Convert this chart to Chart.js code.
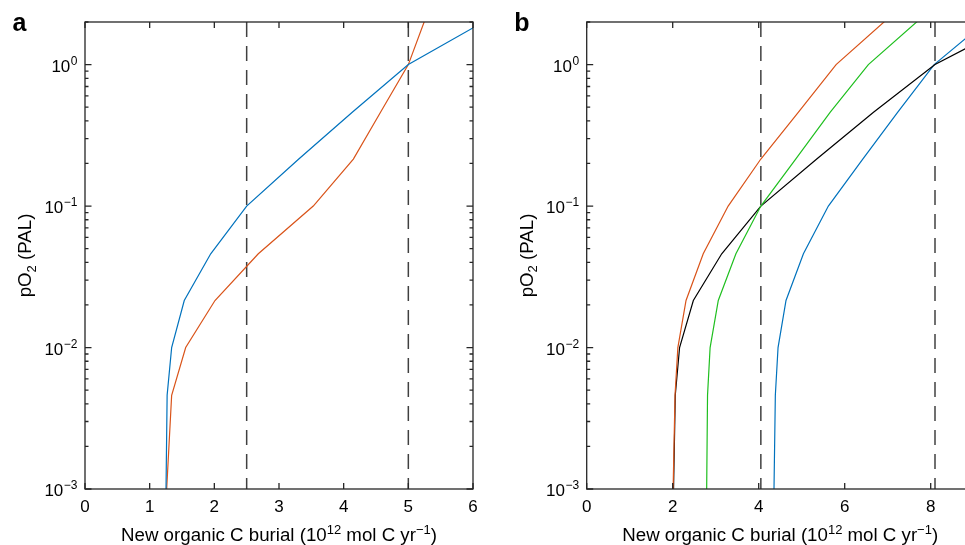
<!DOCTYPE html>
<html><head><meta charset="utf-8">
<script src="https://cdn.jsdelivr.net/npm/chart.js@4.4.1/dist/chart.umd.min.js"></script>
<style>
html,body{margin:0;padding:0;background:#fff;overflow:hidden;}
#wrap{position:relative;width:965px;height:545px;overflow:hidden;background:#fff;}
canvas{position:absolute;top:0;}
</style></head><body>
<div id="wrap">
<canvas id="ca" width="480" height="545" style="left:0"></canvas>
<canvas id="cb" width="500" height="545" style="left:480px"></canvas>
</div>
<script>
// ---------- data ----------
const xTicksA = [0, 1, 2, 3, 4, 5, 6];
const xTicksB = [0, 2, 4, 6, 8];
const yTicks = [0.001, 0.01, 0.1, 1];
const xRangeA = [0, 6];
const xRangeB = [0, 9];
const yRange = [0.001, 2];
const dashA = [2.5, 5];
const dashB = [4.05, 8.1];
const xTitle = ['New organic C burial (10', '12', ' mol C yr', '\u22121', ')'];
const yTitle = ['pO', '2', ' (PAL)'];
const panelLetters = ['a', 'b'];

// panel a
const aBlueX = [1.253, 1.27, 1.34, 1.535, 1.944, 2.5, 3.306, 4.133, 5.0, 6.28];
const aBlueY = [0.001, 0.0046, 0.01, 0.0215, 0.046, 0.1, 0.215, 0.46, 1.0, 2.15];
const aRedX  = [1.263, 1.34, 1.557, 2.01, 2.68, 3.53, 4.15, 4.57, 5.0, 5.27];
const aRedY  = [0.001, 0.0046, 0.01, 0.0215, 0.046, 0.1, 0.215, 0.46, 1.0, 2.15];
// panel b
const bRedX   = [2.01, 2.054, 2.12, 2.31, 2.71, 3.29, 4.05, 4.92, 5.8, 7.03];
const bRedY   = [0.001, 0.0046, 0.01, 0.0215, 0.046, 0.1, 0.215, 0.46, 1.0, 2.15];
const bGreenX = [2.79, 2.81, 2.87, 3.06, 3.47, 4.05, 4.86, 5.66, 6.55, 7.79];
const bGreenY = [0.001, 0.0046, 0.01, 0.0215, 0.046, 0.1, 0.215, 0.46, 1.0, 2.15];
const bBlackX = [2.02, 2.06, 2.16, 2.48, 3.14, 4.05, 5.35, 6.67, 8.1, 10.2];
const bBlackY = [0.001, 0.0046, 0.01, 0.0215, 0.046, 0.1, 0.215, 0.46, 1.0, 2.15];
const bBlueX  = [4.356, 4.387, 4.45, 4.635, 5.04, 5.62, 6.42, 7.23, 8.08, 9.4];
const bBlueY  = [0.001, 0.0046, 0.01, 0.0215, 0.046, 0.1, 0.215, 0.46, 1.0, 2.15];

// ---------- helpers ----------
const FONT = '"Liberation Sans", Arial, Helvetica, sans-serif';
const TITLE_PX = 18.7, TITLE_SUP = 13;
function pts(xs, ys){ return xs.map((x, i) => ({x: x, y: ys[i]})); }
function curve(xs, ys, color){
  return {data: pts(xs, ys), borderColor: color, borderWidth: 1.2, pointRadius: 0, fill: false, tension: 0, order: 1};
}
function dashed(x){
  return {data: [{x: x, y: yRange[1]}, {x: x, y: yRange[0]}], borderColor: '#404040', borderWidth: 1.5,
          borderDash: [15, 9], pointRadius: 0, fill: false, tension: 0, order: 2};
}
function rich(ctx, parts, x, y, align){
  let w = 0;
  parts.forEach(p => { ctx.font = (p.b ? 'bold ' : '') + p.s + 'px ' + FONT; p.w = ctx.measureText(p.t).width; w += p.w + (p.g || 0); });
  let cx = align === 'right' ? x - w : align === 'center' ? x - w / 2 : x;
  ctx.textAlign = 'left'; ctx.textBaseline = 'alphabetic';
  parts.forEach(p => { ctx.font = (p.b ? 'bold ' : '') + p.s + 'px ' + FONT; cx += (p.g || 0); ctx.fillText(p.t, cx, y + (p.dy || 0)); cx += p.w; });
}

const axisPlugin = {
  id: 'axisDeco',
  afterDatasetsDraw(chart, args, opts){
    const ctx = chart.ctx;
    const {left, right, top, bottom} = chart.chartArea;
    const xs = chart.scales.x, ys = chart.scales.y;
    ctx.save();
    ctx.strokeStyle = '#262626'; ctx.lineWidth = 1.3;
    ctx.strokeRect(left, top, right - left, bottom - top);
    ctx.beginPath();
    opts.xTicks.forEach(v => {
      const p = xs.getPixelForValue(v);
      ctx.moveTo(p, bottom); ctx.lineTo(p, bottom - 6);
      ctx.moveTo(p, top); ctx.lineTo(p, top + 6);
    });
    yTicks.forEach(d => {
      for (let m = 1; m <= 9; m++){
        const v = m * d;
        if (v > yRange[1] + 1e-9) break;
        const p = ys.getPixelForValue(v);
        const len = m === 1 ? 6.5 : 3.5;
        ctx.moveTo(left, p); ctx.lineTo(left + len, p);
        ctx.moveTo(right, p); ctx.lineTo(right - len, p);
      }
    });
    ctx.stroke();
    ctx.fillStyle = '#000';
    // x tick labels
    ctx.font = '17px ' + FONT; ctx.textAlign = 'center'; ctx.textBaseline = 'alphabetic';
    opts.xTicks.forEach(v => { ctx.fillText(String(v), xs.getPixelForValue(v), bottom + 22.5); });
    // y tick labels
    yTicks.forEach(v => {
      const e = Math.round(Math.log10(v));
      const es = (e < 0 ? '\u2212' : '') + Math.abs(e);
      const p = ys.getPixelForValue(v);
      rich(ctx, [{t: '10', s: 17, dy: 7}, {t: es, s: 12, dy: 0, g: 0.5}], left - 7.5, p, 'right');
    });
    // x title
    const cxm = (left + right) / 2;
    rich(ctx, [{t: xTitle[0], s: TITLE_PX}, {t: xTitle[1], s: TITLE_SUP, dy: -7.5}, {t: xTitle[2], s: TITLE_PX},
               {t: xTitle[3], s: TITLE_SUP, dy: -7.5}, {t: xTitle[4], s: TITLE_PX}], cxm, 541, 'center');
    // y title
    ctx.save();
    ctx.translate(left - 54, (top + bottom) / 2);
    ctx.rotate(-Math.PI / 2);
    rich(ctx, [{t: yTitle[0], s: TITLE_PX}, {t: yTitle[1], s: TITLE_SUP, dy: 4.5}, {t: yTitle[2], s: TITLE_PX}], 0, 0, 'center');
    ctx.restore();
    // panel letter
    rich(ctx, [{t: opts.letter, s: 25, b: true}], left - 72.5, 31, 'left');
    ctx.restore();
  }
};

function makeChart(id, datasets, xr, xt, letter, yAxisW, padRight){
  return new Chart(document.getElementById(id), {
    type: 'line',
    data: {datasets: datasets},
    options: {
      responsive: false, animation: false, events: [],
      layout: {padding: {top: 22, right: padRight, left: 0, bottom: 0}},
      plugins: {legend: {display: false}, tooltip: {enabled: false}, axisDeco: {xTicks: xt, letter: letter}},
      scales: {
        x: {type: 'linear', min: xr[0], max: xr[1], grid: {display: false}, border: {display: false},
            ticks: {display: false}, afterFit: s => { s.height = 56; }},
        y: {type: 'logarithmic', min: yRange[0], max: yRange[1], grid: {display: false}, border: {display: false},
            ticks: {display: false}, afterFit: s => { s.width = yAxisW; }}
      }
    },
    plugins: [axisPlugin]
  });
}

makeChart('ca', [
  curve(aBlueX, aBlueY, '#0072BD'),
  curve(aRedX, aRedY, '#D95319'),
  ...dashA.map(dashed)
], xRangeA, xTicksA, panelLetters[0], 85, 7);

makeChart('cb', [
  curve(bRedX, bRedY, '#D95319'),
  curve(bGreenX, bGreenY, '#1FBF1F'),
  curve(bBlackX, bBlackY, '#000000'),
  curve(bBlueX, bBlueY, '#0072BD'),
  ...dashB.map(dashed)
], xRangeB, xTicksB, panelLetters[1], 106.7, 6.3);
</script>
</body></html>
